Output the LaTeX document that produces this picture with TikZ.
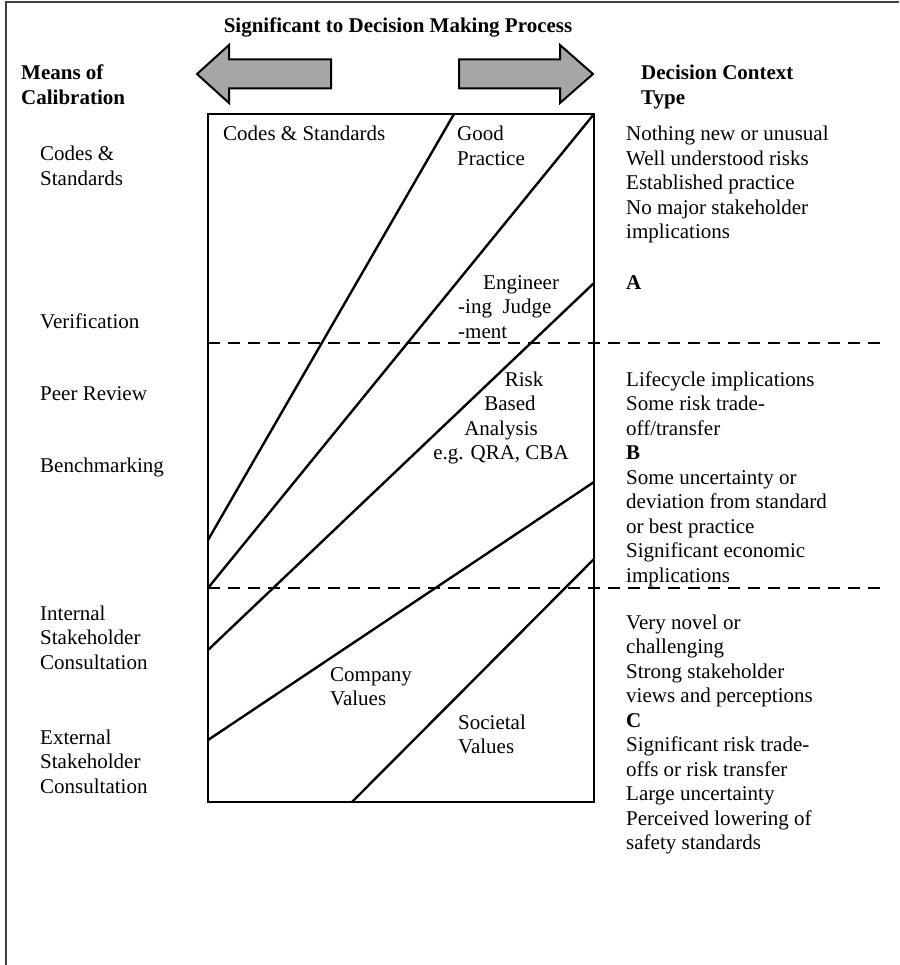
\documentclass[tikz,border=0pt]{standalone}
\usepackage{fontspec}
\setmainfont{Liberation Serif}
\newcommand\txtsize{\fontsize{21}{24.5}\selectfont}
\tikzset{
    lbl/.style={anchor=base west, inner sep=0pt, align=left, font=\txtsize},
    head/.style={lbl, font={\txtsize\bfseries}},
    divider/.style={line width=2.4pt, dash pattern=on 12pt off 8pt},
    edge/.style={line width=2.4pt},
    border/.style={line width=2.5pt, black!75},
    bigarrow/.style={draw, fill=black!35, line width=2pt, line join=miter}
}
\begin{document}
\begin{tikzpicture}[x=1pt,y=-1pt]
\useasboundingbox (0,0) rectangle (899,965);
\draw[border] (6,965) -- (6,2) -- (899,2);

% Header and arrows (multi-line nodes sit on their last baseline)
\node[head, anchor=base] (title) at (398,33) {Significant to Decision Making Process};
\draw[bigarrow] (331,59.5) -- (229,59.5) -- (229,45) -- (197,74) -- (229,103) -- (229,88.5) -- (331,88.5) -- cycle;
\draw[bigarrow] (459,59.5) -- (560,59.5) -- (560,45) -- (593,74) -- (560,103) -- (560,88.5) -- (459,88.5) -- cycle;
\node[head] (means) at (21,104.5) {Means of\\Calibration};
\node[head] (context) at (641,104.5) {Decision Context\\Type};

% Main box with its bands
\draw[edge] (208,114) rectangle (594,802);
\coordinate (topA) at (454,114);
\coordinate (leftA) at (208,540);
\coordinate (topB) at (594,114);
\coordinate (leftB) at (208,588);
\coordinate (rightC) at (594,283);
\coordinate (leftC) at (208,650);
\coordinate (rightD) at (594,482);
\coordinate (leftD) at (208,740);
\coordinate (rightE) at (594,559);
\coordinate (bottomE) at (352,802);
\draw[edge] (topA) -- (leftA);
\draw[edge] (topB) -- (leftB);
\draw[edge] (rightC) -- (leftC);
\draw[edge] (rightD) -- (leftD);
\draw[edge] (rightE) -- (bottomE);

% Band labels
\node[lbl] (codes) at (223,141) {Codes \& Standards};
\node[lbl] (good) at (457,165.5) {Good\\Practice};
\node[lbl] (judge) at (458,338) {\hspace*{25pt}Engineer\\-ing\ \ Judge\\-ment};
\node[lbl, anchor=base, align=center] (risk) at (501,459.5) {\hspace*{46pt}Risk\\\hspace*{18pt}Based\\Analysis\hspace*{14pt}\\e.g. QRA, CBA};
\node[lbl] (company) at (330,705.5) {Company\\Values};
\node[lbl] (societal) at (458,753.5) {Societal\\Values};

% Context dividers
\draw[divider] (208,343) -- (880,343);
\draw[divider] (208,588) -- (887,588);

% Means of calibration
\node[lbl] (mCodes) at (40,185.5) {Codes \&\\Standards};
\node[lbl] (mVerif) at (40,328) {Verification};
\node[lbl] (mPeer) at (40,400) {Peer Review};
\node[lbl] (mBench) at (40,472) {Benchmarking};
\node[lbl] (mInternal) at (40,669) {Internal\\Stakeholder\\Consultation};
\node[lbl] (mExternal) at (40,793) {External\\Stakeholder\\Consultation};

% Decision context types
\node[lbl] (ctxA) at (626,239) {Nothing new or unusual\\Well understood risks\\Established practice\\No major stakeholder\\implications};
\node[head] (typeA) at (626,289) {A};
\node[lbl] (ctxB) at (626,582) {Lifecycle implications\\Some risk trade-\\off/transfer\\\textbf{B}\\Some uncertainty or\\deviation from standard\\or best practice\\Significant economic\\implications};
\node[lbl] (ctxC) at (626,849.5) {Very novel or\\challenging\\Strong stakeholder\\views and perceptions\\\textbf{C}\\Significant risk trade-\\offs or risk transfer\\Large uncertainty\\Perceived lowering of\\safety standards};
\end{tikzpicture}
\end{document}
